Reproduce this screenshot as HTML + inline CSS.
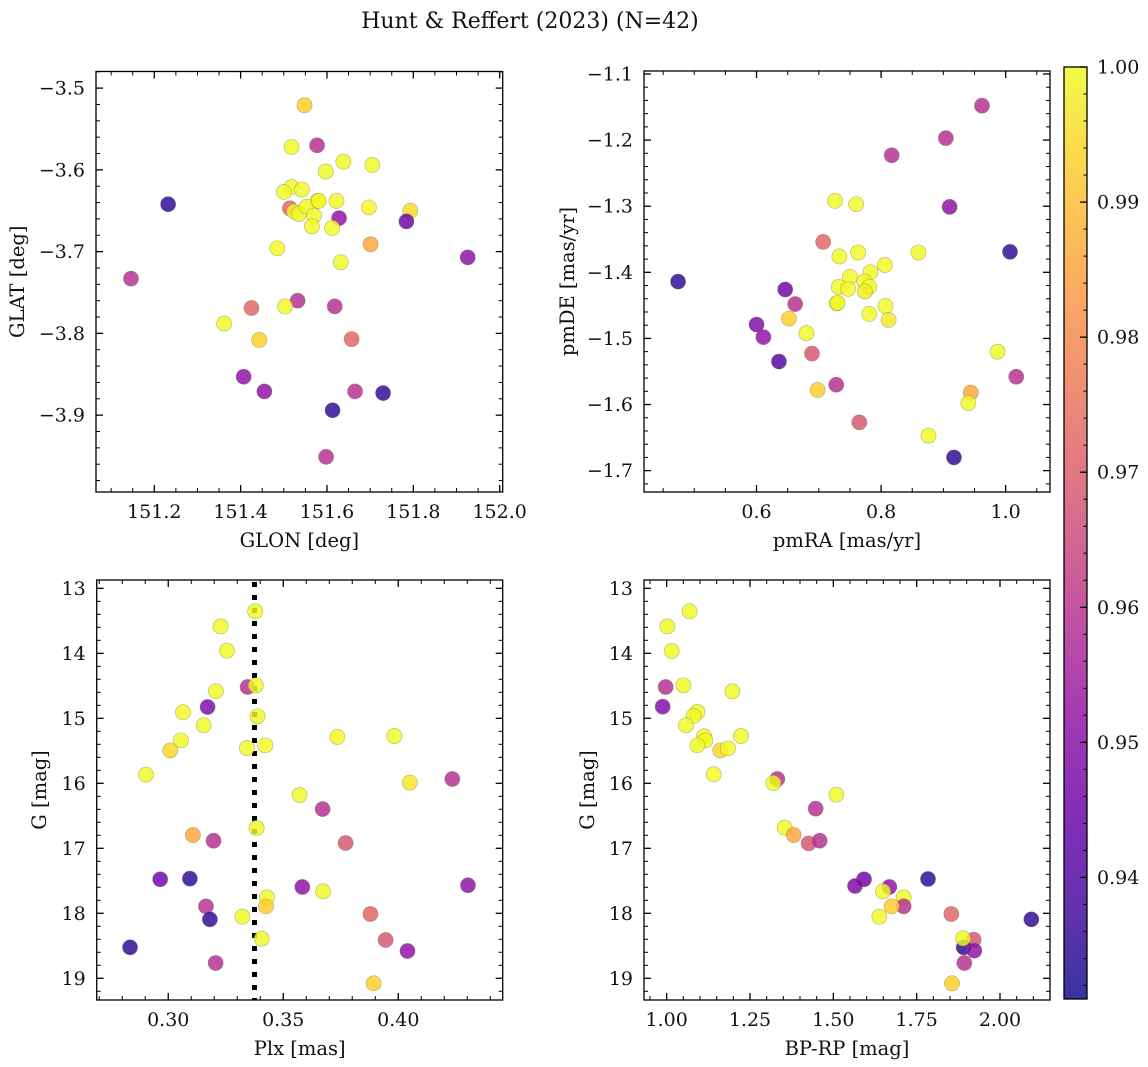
<!DOCTYPE html>
<html><head><meta charset="utf-8">
<style>
html,body{margin:0;padding:0;background:#fff;}
svg{display:block;font-family:"DejaVu Serif","Liberation Serif",serif;}
</style></head>
<body>
<svg id="fig" width="1148" height="1067" viewBox="0 0 1148 1067" xmlns="http://www.w3.org/2000/svg">
<text x="530" y="28" font-size="22" text-anchor="middle" fill="#111">Hunt &amp; Reffert (2023) (N=42)</text>
</svg>
<script>
// ---- data (per panel) ----
const glon=[151.548,151.518,151.577,151.638,151.705,151.597,151.518,151.500,151.542,151.578,151.622,151.232,151.514,151.524,151.535,151.553,151.570,151.697,151.793,151.628,151.784,151.565,151.612,151.485,151.701,151.926,151.632,151.146,151.532,151.503,151.618,151.425,151.362,151.443,151.657,151.407,151.455,151.665,151.730,151.613,151.598,151.581];
const glat=[-3.521,-3.572,-3.570,-3.590,-3.594,-3.602,-3.621,-3.627,-3.624,-3.638,-3.638,-3.642,-3.647,-3.651,-3.654,-3.645,-3.656,-3.646,-3.650,-3.659,-3.663,-3.669,-3.671,-3.696,-3.691,-3.707,-3.713,-3.733,-3.760,-3.767,-3.767,-3.769,-3.788,-3.808,-3.807,-3.853,-3.871,-3.871,-3.873,-3.894,-3.951,-3.638];
const glProb=[0.993,1,0.959,1,1,1,1,1,1,1,1,0.935,0.972,1,1,1,1,1,0.995,0.951,0.945,1,1,1,0.986,0.951,1,0.959,0.959,1,0.959,0.972,1,0.993,0.972,0.951,0.951,0.959,0.935,0.935,0.959,1];

const pmra=[0.962,0.904,0.817,0.726,0.760,0.910,0.707,0.733,0.763,0.860,1.007,0.806,0.783,0.750,0.474,0.773,0.781,0.732,0.747,0.774,0.646,0.662,0.729,0.807,0.781,0.652,0.812,0.600,0.680,0.611,0.987,0.689,0.636,1.017,0.728,0.698,0.944,0.940,0.765,0.876,0.917,0.730];
const pmde=[-1.148,-1.197,-1.223,-1.292,-1.297,-1.301,-1.354,-1.376,-1.370,-1.370,-1.369,-1.389,-1.400,-1.407,-1.414,-1.414,-1.422,-1.422,-1.425,-1.429,-1.426,-1.448,-1.447,-1.451,-1.463,-1.470,-1.472,-1.479,-1.492,-1.498,-1.520,-1.523,-1.535,-1.558,-1.570,-1.578,-1.582,-1.598,-1.627,-1.647,-1.680,-1.446];
const pmProb=[0.959,0.959,0.959,1,1,0.951,0.972,1,1,1,0.935,1,1,1,0.935,1,1,1,1,0.998,0.945,0.959,1,1,1,0.993,0.997,0.948,1,0.951,1,0.968,0.94,0.959,0.959,0.993,0.986,1,0.968,1,0.935,1];

const plx=[0.3378,0.3228,0.3255,0.3345,0.3381,0.3207,0.3171,0.3064,0.3388,0.3154,0.3055,0.3009,0.3342,0.3422,0.3735,0.3983,0.2903,0.4050,0.4235,0.3571,0.3671,0.3384,0.3107,0.3197,0.3771,0.2965,0.3094,0.3583,0.3673,0.4303,0.3429,0.3425,0.3164,0.3181,0.3322,0.3879,0.3406,0.3945,0.4040,0.2834,0.3206,0.3893];
const gPlx=[13.354,13.585,13.959,14.518,14.493,14.585,14.826,14.908,14.970,15.108,15.339,15.493,15.457,15.416,15.288,15.272,15.867,15.990,15.934,16.180,16.396,16.688,16.796,16.883,16.918,17.477,17.467,17.595,17.662,17.569,17.755,17.893,17.893,18.093,18.052,18.011,18.390,18.411,18.580,18.524,18.765,19.077];
const plxProb=[1,1,1,0.959,1,1,0.948,1,1,1,1,0.994,1,1,1,1,1,0.997,0.959,1,0.959,1,0.986,0.959,0.968,0.945,0.935,0.951,1,0.951,1,0.993,0.959,0.935,1,0.972,1,0.968,0.951,0.935,0.959,0.993];
const plxCut=[0.3375];

const bprp=[1.069,1.002,1.015,0.997,1.050,1.197,0.988,1.092,1.081,1.058,1.112,1.116,1.223,1.092,1.161,1.184,1.141,1.332,1.320,1.509,1.447,1.354,1.381,1.426,1.459,1.592,1.784,1.565,1.668,1.649,1.711,1.711,1.675,1.638,1.854,2.094,1.921,1.891,1.889,1.923,1.893,1.856];
const gCmd=[13.354,13.585,13.965,14.518,14.493,14.585,14.821,14.903,14.965,15.108,15.277,15.339,15.272,15.416,15.493,15.462,15.862,15.934,15.995,16.175,16.390,16.683,16.796,16.924,16.883,17.477,17.472,17.580,17.595,17.662,17.755,17.893,17.893,18.052,18.011,18.093,18.406,18.524,18.385,18.575,18.765,19.077];
const cmdProb=[1,1,1,0.959,1,1,0.948,1,1,1,1,1,1,1,0.994,1,1,0.959,1,1,0.959,1,0.986,0.968,0.959,0.945,0.935,0.948,0.951,1,1,0.959,0.993,1,0.972,0.935,0.968,0.935,1,0.951,0.959,0.993];

const cbTicks=[0.94,0.95,0.96,0.97,0.98,0.99,1.00];

// ---- helpers ----
const NS="http://www.w3.org/2000/svg";
const svg=document.getElementById('fig');
function mk(tag,attrs,parent){const e=document.createElementNS(NS,tag);for(const k in attrs)e.setAttribute(k,attrs[k]);(parent||svg).appendChild(e);return e;}
const plasmaStops=["#0d0887","#41049d","#6a00a8","#8f0da4","#b12a90","#cc4778","#e16462","#f2844b","#fca636","#fcce25","#f0f921"];
function hex(h){return [parseInt(h.slice(1,3),16),parseInt(h.slice(3,5),16),parseInt(h.slice(5,7),16)];}
function plasma(t){t=Math.max(0,Math.min(1,t));const f=t*10,i=Math.min(9,Math.floor(f)),u=f-i;const a=hex(plasmaStops[i]),b=hex(plasmaStops[i+1]);return "rgb("+a.map((v,k)=>Math.round(v+(b[k]-v)*u)).join(",")+")";}
const PMIN=0.931,PMAX=1.0;
function pcol(p){return plasma((p-PMIN)/(PMAX-PMIN));}
function fmt(v,d){const s=Math.abs(v).toFixed(d);return (v<0?"\u2212":"")+s;}

function panel(cfg){
  const g=mk('g',{});
  
  
  const X=v=>cfg.L+(v-cfg.x0)/(cfg.x1-cfg.x0)*(cfg.R-cfg.L);
  const Y=v=>cfg.B-(v-cfg.y0)/(cfg.y1-cfg.y0)*(cfg.B-cfg.T);
  const eps=1e-9;
  const xs=Math.min(cfg.x0,cfg.x1),xe=Math.max(cfg.x0,cfg.x1);
  for(let v=Math.ceil(xs/cfg.xmin-eps)*cfg.xmin;v<=xe+eps;v+=cfg.xmin){const x=X(v);const isMaj=Math.abs(v/cfg.xmaj-Math.round(v/cfg.xmaj))<1e-6;const len=isMaj?7:4;
    const t1=mk('line',{x1:x,x2:x,y1:cfg.B,y2:cfg.B-len,stroke:'#000','stroke-width':isMaj?1.3:1},g);
    
    
    mk('line',{x1:x,x2:x,y1:cfg.T,y2:cfg.T+len,stroke:'#000','stroke-width':isMaj?1.3:1},g);
    if(isMaj){const tl=mk('text',{x:x,y:cfg.B+26,'font-size':19,'text-anchor':'middle',fill:'#111'},g);tl.textContent=fmt(v,cfg.xd);
      
      }
  }
  const ys=Math.min(cfg.y0,cfg.y1),ye=Math.max(cfg.y0,cfg.y1);
  for(let v=Math.ceil(ys/cfg.ymin-eps)*cfg.ymin;v<=ye+eps;v+=cfg.ymin){const y=Y(v);const isMaj=Math.abs(v/cfg.ymaj-Math.round(v/cfg.ymaj))<1e-6;const len=isMaj?7:4;
    const t2=mk('line',{x1:cfg.L,x2:cfg.L+len,y1:y,y2:y,stroke:'#000','stroke-width':isMaj?1.3:1},g);
    
    
    mk('line',{x1:cfg.R,x2:cfg.R-len,y1:y,y2:y,stroke:'#000','stroke-width':isMaj?1.3:1},g);
    if(isMaj){const tl=mk('text',{x:cfg.L-11,y:y+6.5,'font-size':19,'text-anchor':'end',fill:'#111'},g);tl.textContent=fmt(v,cfg.yd);
      
      }
  }
  if(cfg.vline!==undefined){const vl=mk('line',{x1:X(cfg.vline),x2:X(cfg.vline),y1:cfg.T+2,y2:cfg.B,stroke:'#000','stroke-width':5,'stroke-dasharray':'5,8'},g);
    
    }
  for(let i=0;i<cfg.xv.length;i++){
    const c=mk('circle',{cx:X(cfg.xv[i]),cy:Y(cfg.yv[i]),r:7.6,fill:pcol(cfg.pv[i]),'fill-opacity':0.82,stroke:'#7a7a5a','stroke-opacity':0.55,'stroke-width':0.6},g);
    
    
  }
  const fr=mk('rect',{x:cfg.L,y:cfg.T,width:cfg.R-cfg.L,height:cfg.B-cfg.T,fill:'none',stroke:'#000','stroke-width':1.3},g);
  
  
  const xl=mk('text',{x:(cfg.L+cfg.R)/2,y:cfg.B+55,'font-size':19.5,'text-anchor':'middle',fill:'#111'},g);xl.textContent=cfg.xlabel;
  
  
  const yl=mk('text',{x:0,y:0,'font-size':19.5,'text-anchor':'middle',fill:'#111',transform:'translate('+cfg.ylx+','+(cfg.T+cfg.B)/2+') rotate(-90)'},g);yl.textContent=cfg.ylabel;
  
  
}

panel({name:'glon-glat-panel',L:96,R:502.7,T:71.5,B:492,x0:151.065,x1:152.007,y0:-3.994,y1:-3.4797,xmaj:0.2,xmin:0.05,ymaj:0.1,ymin:0.02,xd:1,yd:1,xv:glon,yv:glat,pv:glProb,xlabel:'GLON [deg]',ylabel:'GLAT [deg]',ylx:24});
panel({name:'proper-motion-panel',L:644,R:1050,T:71,B:492,x0:0.4193,x1:1.0712,y0:-1.7323,y1:-1.0955,xmaj:0.2,xmin:0.05,ymaj:0.1,ymin:0.02,xd:1,yd:1,xv:pmra,yv:pmde,pv:pmProb,xlabel:'pmRA [mas/yr]',ylabel:'pmDE [mas/yr]',ylx:574});
panel({name:'parallax-magnitude-panel',L:96.7,R:502.7,T:580,B:1000,x0:0.2689,x1:0.4454,y0:19.334,y1:12.872,xmaj:0.05,xmin:0.01,ymaj:1,ymin:0.2,xd:2,yd:0,xv:plx,yv:gPlx,pv:plxProb,vline:plxCut[0],xlabel:'Plx [mas]',ylabel:'G [mag]',ylx:46});
panel({name:'color-magnitude-panel',L:644,R:1050,T:580,B:1000,x0:0.932,x1:2.15,y0:19.334,y1:12.872,xmaj:0.25,xmin:0.05,ymaj:1,ymin:0.2,xd:2,yd:0,xv:bprp,yv:gCmd,pv:cmdProb,xlabel:'BP-RP [mag]',ylabel:'G [mag]',ylx:594});

// ---- colorbar ----
const cb=mk('g',{});


const CL=1064,CR=1087,CT=67,CB=999;
const defs=mk('defs',{},cb);
const grad=mk('linearGradient',{id:'cbg',x1:0,y1:1,x2:0,y2:0},defs);
for(let k=0;k<=20;k++){mk('stop',{offset:k/20,'stop-color':plasma(k/20),'stop-opacity':0.82},grad);}
const cbr=mk('rect',{x:CL,y:CT,width:CR-CL,height:CB-CT,fill:'url(#cbg)',stroke:'#000','stroke-width':1.3},cb);


const CY=p=>CB-(p-PMIN)/(PMAX-PMIN)*(CB-CT);
for(let v=0.932;v<=1.0001;v+=0.002){const y=CY(v);mk('line',{x1:CR,x2:CR-3.5,y1:y,y2:y,stroke:'#000','stroke-width':1},cb);}
for(let i=0;i<cbTicks.length;i++){const y=CY(cbTicks[i]);
  mk('line',{x1:CR,x2:CR-7,y1:y,y2:y,stroke:'#000','stroke-width':1.3},cb);
  const t=mk('text',{x:CR+10,y:y+6.5,'font-size':19,fill:'#111'},cb);t.textContent=cbTicks[i].toFixed(2);
  
  
}
</script>
</body></html>
